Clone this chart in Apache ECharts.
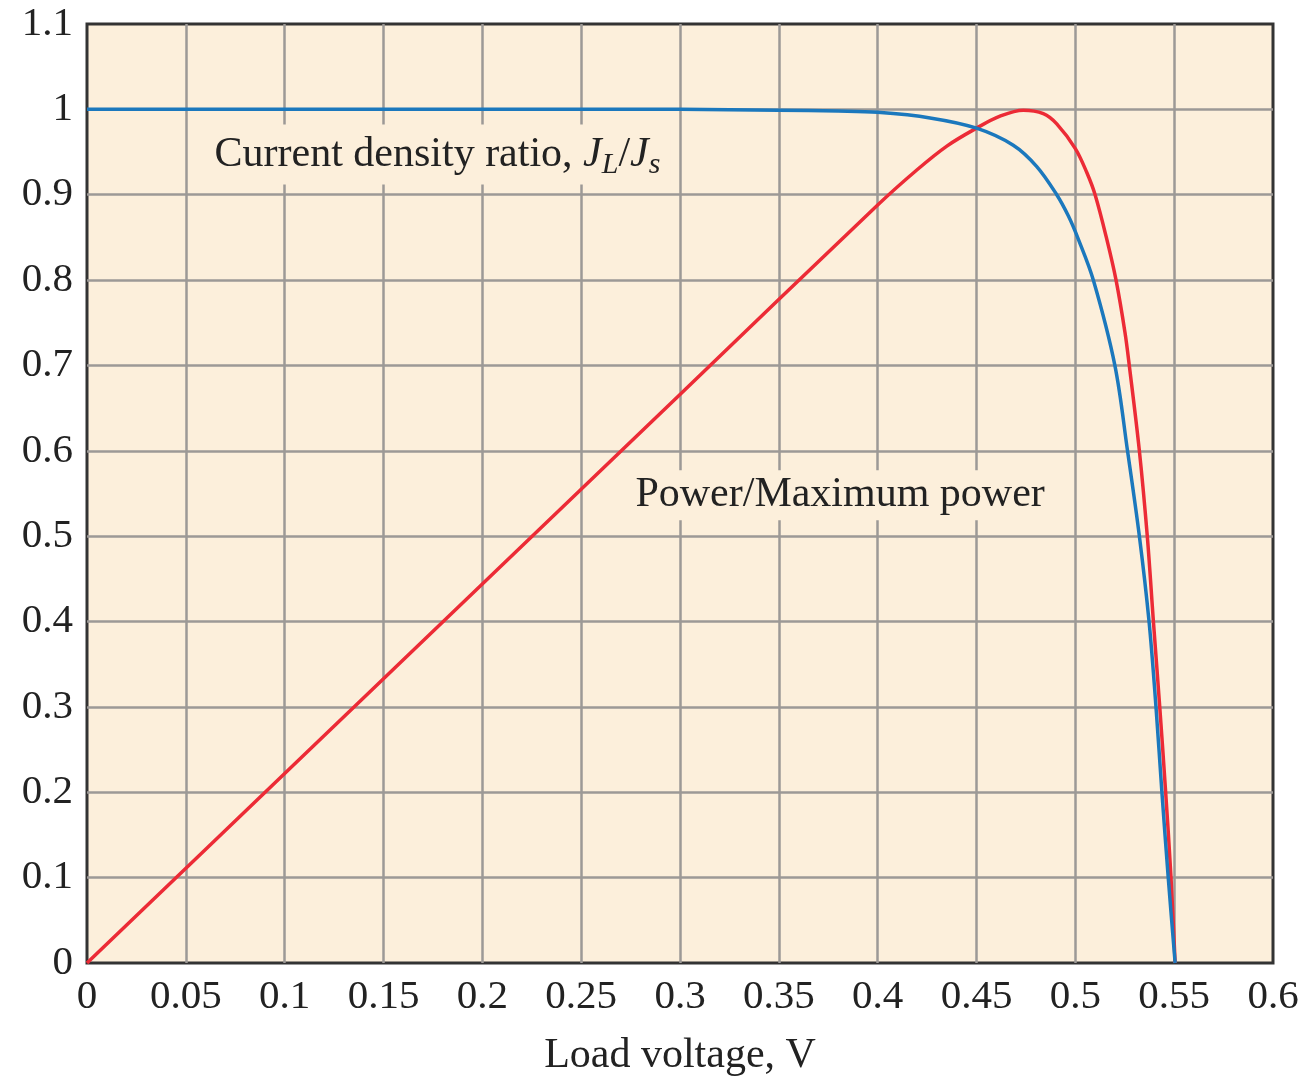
<!DOCTYPE html>
<html>
<head>
<meta charset="utf-8">
<script src="https://cdn.jsdelivr.net/npm/echarts@6/dist/echarts.min.js"></script>
<style>
  html, body { margin: 0; padding: 0; background: #fff; }
  #main { width: 1307px; height: 1082px; }
</style>
</head>
<body>
<div id="main"></div>
<script>
// tick labels
var xTickLabels = ['0', '0.05', '0.1', '0.15', '0.2', '0.25', '0.3', '0.35', '0.4', '0.45', '0.5', '0.55', '0.6'];
var yTickLabels = ['0', '0.1', '0.2', '0.3', '0.4', '0.5', '0.6', '0.7', '0.8', '0.9', '1', '1.1'];

// current density ratio J_L/J_s vs load voltage
var currentRatio = [
    [0, 1], [0.1, 1], [0.2, 1], [0.3, 1], [0.35, 0.999], [0.38, 0.998],
    [0.4, 0.9965], [0.4265, 0.99], [0.45, 0.978], [0.4686, 0.958],
    [0.4805, 0.933], [0.4906, 0.9], [0.4965, 0.875], [0.5015, 0.848],
    [0.5091, 0.8], [0.52, 0.7], [0.5264, 0.6],
    [0.5324, 0.5], [0.5373, 0.4], [0.5408, 0.3], [0.5438, 0.2],
    [0.547, 0.1], [0.5505, 0]
];

// power / maximum power vs load voltage
var powerRatio = [
    [0, 0], [0.1, 0.222], [0.2, 0.444], [0.3, 0.666], [0.4, 0.888],
    [0.4198, 0.929], [0.435, 0.957], [0.45, 0.978], [0.4619, 0.992],
    [0.4737, 0.999], [0.4838, 0.995], [0.4906, 0.983], [0.5, 0.954],
    [0.5058, 0.926], [0.51, 0.9], [0.5159, 0.848], [0.5206, 0.8],
    [0.5251, 0.739], [0.5273, 0.7], [0.5324, 0.6], [0.5364, 0.5],
    [0.5395, 0.4], [0.5427, 0.3], [0.5457, 0.2], [0.5484, 0.1], [0.5505, 0]
];

// where the two curve captions sit (data coordinates)
var currentLabelAt = [0.1773, 0.947];
var powerLabelAt = [0.381, 0.548];

var chart = echarts.init(document.getElementById('main'));

var serif = '"Liberation Serif", "DejaVu Serif", serif';
var paper = '#fcefdb';

function tickFormatter(list) {
    return function (v) {
        var s = String(Math.round(v * 100) / 100);
        return list.indexOf(s) >= 0 ? s : '';
    };
}

function captionPoint(coord, text) {
    return {
        symbol: 'circle',
        symbolSize: 0,
        data: [{ coord: coord }],
        label: {
            show: true,
            position: 'inside',
            formatter: text,
            fontFamily: serif,
            fontSize: 42,
            color: '#222',
            backgroundColor: paper,
            padding: [4, 10, 4, 10],
            rich: {
                i: { fontFamily: serif, fontSize: 42, fontStyle: 'italic', color: '#222' },
                sub: { fontFamily: serif, fontSize: 30, fontStyle: 'italic', color: '#222', padding: [22, 0, 0, 0] }
            }
        }
    };
}

var option = {
    animation: false,
    backgroundColor: '#fff',
    grid: {
        left: 87,
        right: 34,
        top: 24,
        bottom: 116,
        show: true,
        backgroundColor: paper,
        borderColor: '#333',
        borderWidth: 3
    },
    xAxis: {
        type: 'value',
        min: 0,
        max: 0.6,
        interval: 0.05,
        name: 'Load voltage, V',
        nameLocation: 'middle',
        nameGap: 72,
        nameTextStyle: { fontFamily: serif, fontSize: 42, color: '#222' },
        axisLine: { show: false },
        axisTick: { show: false },
        axisLabel: {
            fontFamily: serif,
            fontSize: 41,
            color: '#222',
            margin: 14,
            formatter: tickFormatter(xTickLabels)
        },
        splitLine: {
            show: true,
            showMinLine: false,
            showMaxLine: false,
            lineStyle: { color: '#9c9996', width: 2.5 }
        }
    },
    yAxis: {
        type: 'value',
        min: 0,
        max: 1.1,
        interval: 0.1,
        axisLine: { show: false },
        axisTick: { show: false },
        axisLabel: {
            fontFamily: serif,
            fontSize: 41,
            color: '#222',
            margin: 14,
            formatter: tickFormatter(yTickLabels)
        },
        splitLine: {
            show: true,
            showMinLine: false,
            showMaxLine: false,
            lineStyle: { color: '#9c9996', width: 2.5 }
        }
    },
    series: [
        {
            name: 'Power/Maximum power',
            type: 'line',
            data: powerRatio,
            showSymbol: false,
            smooth: 0.35,
            lineStyle: { color: '#ec2b36', width: 3.5 },
            z: 3,
            markPoint: captionPoint(powerLabelAt, 'Power/Maximum power')
        },
        {
            name: 'Current density ratio',
            type: 'line',
            data: currentRatio,
            showSymbol: false,
            smooth: 0.35,
            lineStyle: { color: '#1b78bd', width: 3.5 },
            z: 4,
            markPoint: captionPoint(currentLabelAt, 'Current density ratio, {i|J}{sub|L}/{i|J}{sub|s}')
        }
    ]
};

chart.setOption(option);
</script>
</body>
</html>
